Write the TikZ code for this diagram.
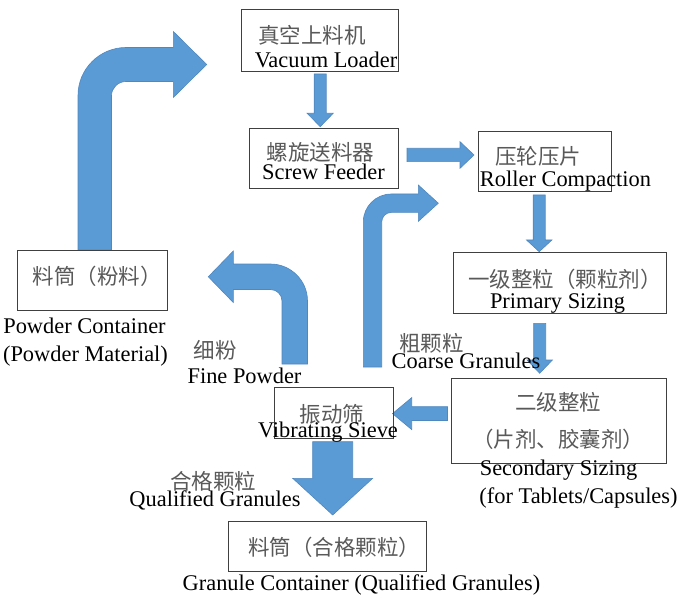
\documentclass[tikz,border=0pt]{standalone}
\usepackage{fontspec}
\setmainfont{Liberation Serif}
\newfontfamily\cjk{Noto Sans CJK SC}
\definecolor{arrowblue}{HTML}{5B9BD5}
\definecolor{arrowline}{HTML}{4F87BF}
\definecolor{boxline}{HTML}{404040}
\definecolor{cntext}{HTML}{595959}

\begin{document}
\begin{tikzpicture}[x=1pt, y=-1pt,
    box/.style={draw=boxline, line width=0.8pt, outer sep=0pt, inner sep=0pt},
    cn/.style={text=cntext, font=\cjk\fontsize{21.5}{24}\selectfont, inner sep=0pt},
    en/.style={font=\fontsize{22.4}{24}\selectfont, inner sep=0pt, anchor=base},
    blockarrow/.style={fill=arrowblue, draw=arrowline, line width=0.6pt}
]
    \useasboundingbox (0,0) rectangle (692,601);

    % Arrows
    \draw[blockarrow] (314.2,74) -- (326.2,74) -- (326.2,113.3) -- (333.2,113.3)
        -- (320.2,126.7) -- (307.2,113.3) -- (314.2,113.3) -- cycle;
    \draw[blockarrow] (407,148.3) -- (460,148.3) -- (460,141.7) -- (474,155)
        -- (460,168.3) -- (460,161.7) -- (407,161.7) -- cycle;
    \draw[blockarrow] (533.2,195) -- (545.2,195) -- (545.2,240) -- (551.9,240)
        -- (539.2,251.7) -- (526.5,240) -- (533.2,240) -- cycle;
    \draw[blockarrow] (533.7,323.3) -- (545.7,323.3) -- (545.7,360) -- (552.4,360)
        -- (539.7,373.3) -- (527,360) -- (533.7,360) -- cycle;
    \draw[blockarrow] (447.5,406.7) -- (447.5,420.5) -- (411.7,420.5) -- (411.7,429.6)
        -- (392.5,413.6) -- (411.7,397.6) -- (411.7,406.7) -- cycle;
    \draw[blockarrow] (312.7,441.7) -- (352.7,441.7) -- (352.7,478.3) -- (372.7,478.3)
        -- (332.7,515) -- (292.7,478.3) -- (312.7,478.3) -- cycle;

    % Bent arrows
    \draw[blockarrow] (78,250) -- (78,95.5) .. controls (78,69) and (99.5,47.5) .. (126,47.5)
        -- (173.3,47.5) -- (173.3,31.5) -- (206.7,64.5) -- (173.3,97.5) -- (173.3,81.5)
        -- (126,81.5) .. controls (118,81.5) and (111.5,88) .. (111.5,95.5)
        -- (111.5,250) -- cycle;
    \draw[blockarrow] (307.5,364) -- (307.5,301) .. controls (307.5,280.6) and (290.9,264) .. (270.5,264)
        -- (233.3,264) -- (233.3,251) -- (208.3,276.75) -- (233.3,302.5) -- (233.3,289.5)
        -- (270.5,289.5) .. controls (276.8,289.5) and (282,294.7) .. (282,301)
        -- (282,364) -- cycle;
    \draw[blockarrow] (363.3,367) -- (363.3,222) .. controls (363.3,206.5) and (375.8,194) .. (391.3,194)
        -- (418.3,194) -- (418.3,185) -- (438.3,203.2) -- (418.3,221.4) -- (418.3,212.4)
        -- (391.3,212.4) .. controls (386,212.4) and (381.7,216.7) .. (381.7,222)
        -- (381.7,367) -- cycle;

    % Boxes
    \node[box, minimum width=157, minimum height=62] (VacuumLoader) at (319.5,40) {};
    \node[box, minimum width=149, minimum height=60] (ScrewFeeder) at (323.5,158) {};
    \node[box, minimum width=133, minimum height=60] (RollerCompaction) at (544.5,161) {};
    \node[box, minimum width=213, minimum height=61] (PrimarySizing) at (559.5,282.5) {};
    \node[box, minimum width=215, minimum height=85] (SecondarySizing) at (558.5,420.5) {};
    \node[box, minimum width=119, minimum height=51] (VibratingSieve) at (333.5,412.5) {};
    \node[box, minimum width=198, minimum height=50] (GranuleContainer) at (327,546) {};
    \node[box, minimum width=150, minimum height=60] (PowderContainer) at (92,280) {};

    % Labels
    \node[cn] (VacuumLoaderCn) at (312,35.5) {真空上料机};
    \node[en] (VacuumLoaderEn) at (326,68) {Vacuum Loader};
    \node[cn] (ScrewFeederCn) at (320.5,152.5) {螺旋送料器};
    \node[en] (ScrewFeederEn) at (323.5,180) {Screw Feeder};
    \node[cn] (RollerCompactionCn) at (538,156) {压轮压片};
    \node[en] (RollerCompactionEn) at (565.5,187) {Roller Compaction};
    \node[cn] (PrimarySizingCn) at (565,279) {一级整粒（颗粒剂）};
    \node[en] (PrimarySizingEn) at (557.5,308) {Primary Sizing};
    \node[cn] (SecondarySizingCn) at (558,402.5) {二级整粒};
    \node[cn] (SecondarySizingCnB) at (558,439) {（片剂、胶囊剂）};
    \node[en] (SecondarySizingEn) at (558.5,475) {Secondary Sizing};
    \node[en] (SecondarySizingEnB) at (578.5,503.5) {(for Tablets/Capsules)};
    \node[cn] (VibratingSieveCn) at (332,414) {振动筛};
    \node[en] (VibratingSieveEn) at (328,437) {Vibrating Sieve};
    \node[cn] (GranuleContainerCn) at (334,547) {料筒（合格颗粒）};
    \node[en] (GranuleContainerEn) at (361.5,590) {Granule Container (Qualified Granules)};
    \node[cn] (PowderContainerCn) at (97,276) {料筒（粉料）};
    \node[en] (PowderContainerEn) at (84.5,333) {Powder Container};
    \node[en] (PowderContainerEnB) at (85.5,361) {(Powder Material)};
    \node[cn] (FinePowderCn) at (215,350) {细粉};
    \node[en] (FinePowderEn) at (244.5,383) {Fine Powder};
    \node[cn] (CoarseGranulesCn) at (431.7,343) {粗颗粒};
    \node[en] (CoarseGranulesEn) at (466,368) {Coarse Granules};
    \node[cn] (QualifiedGranulesCn) at (213,481.5) {合格颗粒};
    \node[en] (QualifiedGranulesEn) at (215,506) {Qualified Granules};
\end{tikzpicture}
\end{document}
